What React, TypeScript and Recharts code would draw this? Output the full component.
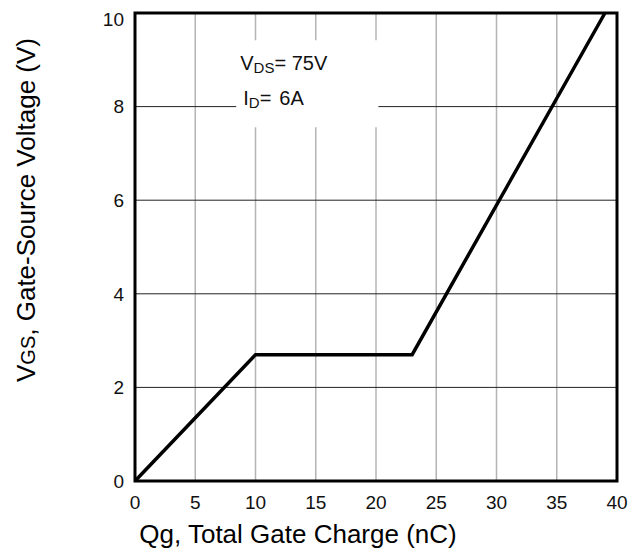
import { LineChart, Line, XAxis, YAxis, CartesianGrid, ReferenceArea } from "recharts";

// gate charge curve
const qg = [0, 10, 23, 39];
const vgs = [0, 2.7, 2.7, 10];
const xTicks = [0, 5, 10, 15, 20, 25, 30, 35, 40];
const yTicks = [0, 2, 4, 6, 8, 10];

const data = qg.map((q, i) => ({ qg: q, vgs: vgs[i] }));

const font = "'Liberation Sans', Arial, sans-serif";

export default function App() {
  return (
    <div style={{ fontFamily: font }}>
      <LineChart width={625} height={546} data={data} margin={{ top: 5, right: 16, left: 0, bottom: 0 }}>
        <CartesianGrid horizontal={false} stroke="#b4b4b4" strokeWidth={1.5} />
        <CartesianGrid vertical={false} stroke="#222" strokeWidth={1} />
        <XAxis
          type="number"
          dataKey="qg"
          domain={[0, 40]}
          ticks={xTicks}
          height={73}
          tickLine={false}
          axisLine={false}
          tickSize={0}
          tickMargin={15}
          tick={{ fontSize: 19, fill: "#111", fontFamily: font }}
          label={{
            content: () => (
              <text x={290} y={535} textAnchor="middle" fontSize={26} fill="#000" fontFamily={font}>
                Qg, Total Gate Charge (nC)
              </text>
            ),
          }}
        />
        <YAxis
          type="number"
          domain={[0, 10]}
          ticks={yTicks}
          width={127}
          tickLine={false}
          axisLine={false}
          tickSize={0}
          tickMargin={11}
          tick={{ fontSize: 19, fill: "#111", fontFamily: font }}
          label={{
            content: () => (
              <text
                x={27}
                y={202}
                transform="rotate(-90 27 202)"
                textAnchor="middle"
                fontSize={26}
                fill="#000"
                fontFamily={font}
              >
                V<tspan fontSize={20}>GS</tspan>, Gate-Source Voltage (V)
              </text>
            ),
          }}
        />
        <ReferenceArea
          x1={8.4}
          x2={20.2}
          y1={7.56}
          y2={9.42}
          fill="#fff"
          fillOpacity={1}
          stroke="none"
          label={{
            content: (props: any) => {
              const vb = props.viewBox || { x: 0, y: 0 };
              return (
                <g fontFamily={font} fill="#111">
                  <text x={vb.x + 4} y={vb.y + 30} fontSize={20}>
                    V<tspan fontSize={15} dy={3}>DS</tspan>
                    <tspan dy={-3}>= 75V</tspan>
                  </text>
                  <text x={vb.x + 7} y={vb.y + 65} fontSize={20}>
                    I<tspan fontSize={15} dy={3}>D</tspan>
                    <tspan dy={-3}>=</tspan>
                    <tspan dx={8}>6A</tspan>
                  </text>
                </g>
              );
            },
          }}
        />
        <ReferenceArea x1={0} x2={40} y1={0} y2={10} fill="none" stroke="#000" strokeWidth={3} />
        <Line
          type="linear"
          dataKey="vgs"
          stroke="#000"
          strokeWidth={3.5}
          dot={false}
          activeDot={false}
          isAnimationActive={false}
        />
      </LineChart>
    </div>
  );
}
